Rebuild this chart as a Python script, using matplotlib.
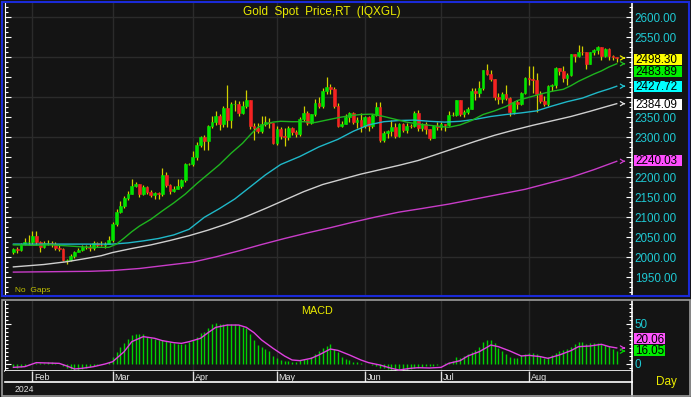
import numpy as np
import matplotlib.pyplot as plt
from matplotlib.patches import Rectangle
from matplotlib.lines import Line2D
from matplotlib.ticker import MultipleLocator, FixedLocator, FuncFormatter, FormatStrFormatter
from matplotlib.transforms import blended_transform_factory

plt.rcParams['font.family'] = ['Liberation Sans', 'DejaVu Sans']

# daily bars, 25 Jan 2024 .. 3 Sep 2024
opens = [2013, 2020, 2018, 2033, 2037, 2039, 2054, 2039, 2025, 2035,
         2035, 2034, 2024, 2020, 1992, 1992, 2004, 2013, 2017, 2025,
         2025, 2024, 2035, 2031, 2030, 2034, 2044, 2083, 2114, 2128,
         2148, 2159, 2179, 2182, 2158, 2175, 2162, 2155, 2160, 2157,
         2205, 2181, 2165, 2171, 2178, 2194, 2233, 2233, 2250, 2280,
         2300, 2290, 2329, 2339, 2352, 2333, 2372, 2344, 2383, 2383,
         2361, 2379, 2392, 2327, 2322, 2316, 2332, 2337, 2335, 2286,
         2320, 2303, 2301, 2323, 2314, 2309, 2346, 2360, 2336, 2358,
         2386, 2377, 2415, 2425, 2420, 2379, 2329, 2334, 2350, 2361,
         2338, 2343, 2327, 2350, 2327, 2355, 2375, 2294, 2311, 2316,
         2325, 2303, 2333, 2319, 2329, 2328, 2360, 2322, 2334, 2320,
         2298, 2327, 2326, 2332, 2330, 2356, 2356, 2392, 2359, 2364,
         2371, 2415, 2411, 2422, 2469, 2459, 2445, 2400, 2396, 2409,
         2398, 2364, 2387, 2384, 2411, 2447, 2446, 2443, 2409, 2390,
         2382, 2427, 2431, 2472, 2465, 2447, 2456, 2508, 2504, 2514,
         2512, 2484, 2512, 2518, 2525, 2504, 2520, 2503, 2500]
highs = [2023, 2025, 2036, 2048, 2055, 2065, 2065, 2040, 2040, 2043,
         2041, 2037, 2033, 2023, 1996, 2008, 2016, 2022, 2031, 2031,
         2034, 2041, 2037, 2040, 2038, 2052, 2088, 2120, 2141, 2152,
         2165, 2195, 2189, 2184, 2180, 2178, 2168, 2164, 2162, 2222,
         2213, 2184, 2177, 2195, 2196, 2236, 2236, 2266, 2288, 2304,
         2305, 2331, 2354, 2365, 2357, 2378, 2431, 2387, 2392, 2390,
         2391, 2417, 2393, 2335, 2335, 2353, 2353, 2349, 2336, 2327,
         2326, 2323, 2327, 2325, 2318, 2351, 2378, 2365, 2359, 2396,
         2400, 2422, 2450, 2432, 2425, 2385, 2340, 2358, 2364, 2364,
         2351, 2360, 2353, 2352, 2357, 2388, 2387, 2316, 2318, 2342,
         2335, 2335, 2335, 2336, 2334, 2365, 2368, 2335, 2338, 2321,
         2331, 2339, 2339, 2334, 2365, 2363, 2392, 2394, 2368, 2375,
         2424, 2424, 2440, 2469, 2483, 2469, 2446, 2410, 2412, 2431,
         2401, 2390, 2393, 2413, 2451, 2477, 2477, 2461, 2416, 2404,
         2431, 2433, 2475, 2474, 2479, 2461, 2509, 2509, 2531, 2527,
         2512, 2512, 2521, 2527, 2526, 2524, 2523, 2506, 2501]
lows = [2009, 2010, 2016, 2030, 2030, 2031, 2030, 2014, 2022, 2030,
        2025, 2017, 2015, 1990, 1984, 1990, 1997, 2012, 2015, 2020,
        2016, 2019, 2025, 2027, 2024, 2033, 2039, 2079, 2111, 2124,
        2144, 2158, 2176, 2150, 2155, 2158, 2151, 2146, 2146, 2153,
        2175, 2157, 2162, 2170, 2172, 2187, 2230, 2229, 2244, 2275,
        2268, 2268, 2322, 2330, 2319, 2325, 2326, 2324, 2365, 2353,
        2357, 2372, 2320, 2292, 2310, 2310, 2328, 2323, 2284, 2281,
        2295, 2277, 2292, 2305, 2300, 2304, 2341, 2331, 2333, 2353,
        2372, 2374, 2408, 2407, 2374, 2326, 2325, 2332, 2338, 2334,
        2323, 2314, 2322, 2315, 2324, 2352, 2287, 2287, 2298, 2302,
        2299, 2300, 2313, 2311, 2323, 2325, 2316, 2316, 2309, 2293,
        2297, 2318, 2319, 2315, 2327, 2352, 2353, 2353, 2350, 2357,
        2370, 2393, 2400, 2418, 2456, 2440, 2394, 2384, 2385, 2393,
        2353, 2359, 2371, 2380, 2407, 2430, 2410, 2364, 2385, 2378,
        2379, 2416, 2424, 2455, 2437, 2430, 2454, 2487, 2500, 2505,
        2470, 2482, 2505, 2507, 2494, 2500, 2492, 2493, 2489]
closes = [2020, 2018, 2033, 2037, 2039, 2054, 2039, 2025, 2035, 2035,
          2034, 2024, 2020, 1992, 1992, 2004, 2013, 2017, 2025, 2025,
          2024, 2035, 2031, 2030, 2034, 2044, 2083, 2114, 2128, 2148,
          2159, 2179, 2182, 2158, 2175, 2162, 2155, 2160, 2157, 2205,
          2181, 2165, 2171, 2178, 2194, 2233, 2233, 2250, 2280, 2300,
          2290, 2329, 2339, 2352, 2333, 2372, 2344, 2383, 2383, 2361,
          2379, 2392, 2327, 2322, 2316, 2332, 2337, 2335, 2286, 2320,
          2303, 2301, 2323, 2314, 2309, 2346, 2360, 2336, 2358, 2386,
          2377, 2415, 2425, 2420, 2379, 2329, 2334, 2350, 2361, 2338,
          2343, 2327, 2350, 2327, 2355, 2375, 2294, 2311, 2316, 2325,
          2303, 2333, 2319, 2329, 2328, 2360, 2322, 2334, 2320, 2298,
          2327, 2326, 2332, 2330, 2356, 2356, 2392, 2359, 2364, 2371,
          2415, 2411, 2422, 2469, 2459, 2445, 2400, 2396, 2409, 2398,
          2364, 2387, 2384, 2411, 2447, 2446, 2443, 2409, 2390, 2382,
          2427, 2431, 2472, 2465, 2447, 2456, 2508, 2504, 2514, 2512,
          2484, 2512, 2518, 2525, 2504, 2520, 2503, 2500, 2498.30]

# moving averages (bar index, value)
ma20_idx = [0, 5, 10, 15, 20, 25, 27, 29, 31, 33, 36, 39, 42, 45, 48, 51, 54, 57,
            60, 62, 64, 66, 68, 70, 73, 76, 79, 82, 85, 88, 91, 94, 97, 100, 103,
            106, 109, 112, 114, 117, 120, 123, 126, 129, 132, 135, 138, 141, 144,
            146, 148, 150, 152, 154, 156, 158]
ma20_val = [2031, 2030, 2031, 2028, 2025, 2025, 2033, 2048, 2064, 2078, 2095, 2116,
            2136, 2158, 2184, 2208, 2232, 2260, 2285, 2306, 2325, 2333, 2338, 2340,
            2339, 2339, 2337, 2343, 2349, 2354, 2357, 2358, 2352, 2345, 2338, 2333,
            2330, 2327, 2325, 2331, 2342, 2357, 2366, 2377, 2392, 2400, 2408, 2415,
            2420, 2429, 2440, 2449, 2458, 2466, 2476, 2483.89]
ma50_idx = [0, 10, 20, 26, 30, 34, 38, 42, 46, 50, 54, 58, 62, 66, 70, 75, 80, 85,
            89, 93, 97, 101, 105, 109, 113, 117, 121, 125, 129, 133, 137, 141, 145,
            149, 153, 156, 158]
ma50_val = [2033, 2033, 2033, 2033, 2036, 2041, 2047, 2056, 2070, 2100, 2122, 2146,
            2176, 2206, 2232, 2252, 2276, 2295, 2315, 2331, 2339, 2342, 2343, 2340,
            2338, 2340, 2345, 2352, 2357, 2361, 2366, 2378, 2389, 2398, 2412, 2421,
            2427.72]
ma100_idx = [0, 8, 14, 19, 23, 26, 31, 36, 41, 46, 51, 56, 61, 66, 71, 76, 81, 86,
             91, 96, 101, 106, 111, 116, 121, 126, 131, 136, 141, 146, 151, 155, 158]
ma100_val = [1976, 1982, 1989, 1997, 2004, 2012, 2022, 2031, 2042, 2054, 2068, 2084,
             2102, 2122, 2143, 2164, 2182, 2195, 2208, 2219, 2230, 2242, 2258, 2274,
             2290, 2305, 2318, 2330, 2341, 2352, 2365, 2376, 2384.09]
ma200_idx = [0, 10, 20, 26, 33, 40, 47, 53, 59, 65, 71, 77, 83, 89, 95, 101, 107,
             114, 120, 127, 134, 140, 146, 152, 158]
ma200_val = [1963, 1964, 1965, 1967, 1972, 1980, 1988, 2001, 2016, 2032, 2047, 2061,
             2074, 2088, 2101, 2113, 2122, 2133, 2144, 2157, 2170, 2185, 2200, 2219,
             2240.03]

# MACD histogram (one per bar) and signal line
macd_hist = [-4, -4.5, -3.5, -2.5, -1.5, 0.5, 1, 1, 1.5, 2,
             2, 1.5, 0.5, -2.5, -5, -6.5, -7, -7, -6, -5,
             -4, -2.5, -1.5, -0.5, 0.5, 2, 9, 15, 21, 26,
             31, 36, 38, 37.5, 37, 34, 33, 31, 30, 30,
             29, 28, 26, 24.5, 24.5, 25, 27, 30, 34, 39,
             40.5, 44.5, 49.5, 51, 49.5, 50, 49.5, 49.5, 49.5, 48.5,
             46.5, 44.5, 38, 30, 24, 21, 19, 16.5, 9.5, 8,
             4.5, 4, 3.5, 2, 2, 5, 6, 6.5, 9, 12.5,
             16.5, 20.5, 22, 25.5, 18.5, 15, 9, 6.5, 4.5, 3,
             2, 1, 0.5, -0.5, -1.5, -3, -4.5, -5.5, -6.5, -7.5,
             -8.5, -8.5, -8.5, -8, -6.5, -5.5, -4.5, -3.5, -3, -2.5,
             -2, -1.5, -0.5, 1.5, 3, 4, 9, 7, 9.5, 13,
             15.5, 17.5, 21, 28, 30, 30, 26, 20, 16.5, 12,
             9, 7, 8, 11, 13, 13.5, 14, 12.5, 10, 7,
             9, 11.5, 13.5, 16, 17.5, 18.5, 21.5, 25, 27, 27,
             25, 26, 26.5, 26.5, 25, 24, 22, 19, 16.05]
sig_idx = [0, 3, 6, 12, 14, 16, 18, 21, 24, 26, 29, 31, 34, 37, 39, 42, 44, 46, 49,
           51, 53, 56, 59, 61, 63, 65, 68, 71, 73, 75, 78, 80, 83, 85, 88, 91, 93,
           96, 99, 101, 104, 106, 109, 112, 114, 117, 119, 122, 124, 125, 127, 130,
           133, 135, 138, 140, 143, 146, 148, 151, 154, 156, 158]
sig_val = [-4.2, -3.3, 1.7, 0.8, -2.5, -6.2, -5.4, -3.3, 0, 2.9, 15.4, 27.9, 34.2,
           32.1, 29.2, 26.7, 25.8, 27.9, 32.1, 39.2, 45.8, 48.7, 48.7, 45.8, 39.2,
           30, 19.6, 10, 5, 4.2, 7.1, 11.3, 18.7, 17, 11.3, 5, 1.7, -1.3, -5.4,
           -7.5, -5.4, -4.6, -5, -4.2, 0.8, 4.2, 10, 15.4, 20.8, 23.7, 21.7, 16.3,
           10, 10.8, 9.2, 7.1, 11.3, 16.7, 21.7, 22.5, 24.6, 21.7, 20.06]

month_names = ['Feb', 'Mar', 'Apr', 'May', 'Jun', 'Jul', 'Aug']
month_start = [5, 26, 47, 69, 92, 112, 135]

BG = '#141414'
GRID = '#2b2b2b'
CYAN_TXT = '#1ec8d2'
YEL = '#ecec00'

W, H = 691, 397


def fx(px):
    return px / W


def fy(py):
    return 1 - py / H


fig = plt.figure(figsize=(W / 100, H / 100), dpi=100, facecolor=BG)

idx = np.arange(len(closes))
o = np.array(opens, float)
hi = np.array(highs, float)
lo = np.array(lows, float)
c = np.array(closes, float)
up = c >= o
XMIN, XMAX = -2.2, 162.0

# label slots on the right scale (pushed apart like the source does)
box_vals = [closes[-1], ma20_val[-1], ma50_val[-1], ma100_val[-1], ma200_val[-1]]
box_fill = ['#ffff00', '#00ee00', '#00ffff', '#ffffff', '#ff4dff']
arrow_col = ['#e8e800', '#22c022', '#22c8d8', '#e6e6e6', '#d040d0']
box_slot = [2494.5, 2465.3, 2426.5, 2381.5, 2242.0]

# ---- price panel ----
ax = fig.add_axes([fx(5), fy(296), 627 / W, 293 / H], facecolor=BG)
ax.set_xlim(XMIN, XMAX)
ax.set_ylim(1903.25, 2635.75)
for v in range(2000, 2601, 100):
    ax.axhline(v, color=GRID, lw=1, zorder=0)
for m in month_start:
    ax.axvline(m, color=GRID, lw=1, zorder=0)

ax.vlines(idx, lo, hi, color='#d0d000', lw=0.9, zorder=2)
ax.bar(idx[up], (c - o)[up], bottom=o[up], width=0.72, color='#00e400',
       edgecolor='#00e400', lw=0.4, zorder=3)
ax.bar(idx[~up], (c - o)[~up], bottom=o[~up], width=0.72, color='#f42222',
       edgecolor='#f42222', lw=0.4, zorder=3)

ax.plot(ma200_idx, ma200_val, color='#c83cc8', lw=1.0, zorder=4)
ax.plot(ma100_idx, ma100_val, color='#cfcfcf', lw=1.0, zorder=4)
ax.plot(ma50_idx, ma50_val, color='#1fb8c8', lw=1.0, zorder=4)
ax.plot(ma20_idx, ma20_val, color='#1eb41e', lw=1.0, zorder=4)


def price_label(v, pos):
    # scale labels sitting under a value box are hidden by it
    if any(abs(v - s) < 24 for s in box_slot):
        return ''
    return f'{v:.2f}'


ax.yaxis.set_major_locator(MultipleLocator(50))
ax.yaxis.set_minor_locator(MultipleLocator(12.5))
ax.yaxis.set_major_formatter(FuncFormatter(price_label))
ax.tick_params(axis='y', which='both', direction='in', left=True, right=True,
               labelleft=False, labelright=True, color='white',
               labelcolor=CYAN_TXT, labelsize=8.4, pad=2, width=0.8)
ax.tick_params(axis='y', which='major', length=4)
ax.tick_params(axis='y', which='minor', length=2)
ax.tick_params(axis='x', which='both', bottom=False, labelbottom=False)
for s in ['top', 'bottom']:
    ax.spines[s].set_visible(False)
ax.spines['left'].set_color('white')
ax.spines['left'].set_linewidth(0.8)
ax.spines['right'].set_color('white')
ax.spines['right'].set_linewidth(1.2)

# last-value boxes and arrows
trR = blended_transform_factory(ax.transAxes, ax.transData)
bh = 11 * 2.5
for v, fc, ac, yb in zip(box_vals, box_fill, arrow_col, box_slot):
    ax.add_patch(Rectangle((1 + 1.5 / 627, yb - bh / 2), 48 / 627, bh, transform=trR,
                           fc=fc, ec='none', clip_on=False, zorder=6))
    ax.text(1 + 3.5 / 627, yb - 1, f'{v:.2f}', transform=trR, ha='left', va='center',
            color='black', fontsize=8.4, zorder=7, clip_on=False)
    ax.annotate('', xy=(160.9, v), xytext=(159.2, v),
                arrowprops=dict(arrowstyle='->,head_length=0.25,head_width=0.15',
                                color=ac, lw=0.9), annotation_clip=False, zorder=5)

# ---- MACD panel ----
axm = fig.add_axes([fx(5), fy(371), 627 / W, 70 / H], facecolor=BG)
axm.set_xlim(XMIN, XMAX)
axm.set_ylim(-8.75, 78.75)
for m in month_start:
    axm.axvline(m, color=GRID, lw=1, zorder=0)
axm.vlines(idx, 0, macd_hist, color='#00d200', lw=1.0, zorder=2)
axm.plot(sig_idx, sig_val, color='#e040e0', lw=1.0, zorder=3)

axm.yaxis.set_major_locator(FixedLocator([0, 50]))
axm.yaxis.set_minor_locator(MultipleLocator(5))
axm.yaxis.set_major_formatter(FormatStrFormatter('%d'))
axm.tick_params(axis='y', which='both', direction='in', left=True, right=True,
                labelleft=False, labelright=True, color='white',
                labelcolor=CYAN_TXT, labelsize=8.4, pad=2, width=0.8)
axm.tick_params(axis='y', which='major', length=4)
axm.tick_params(axis='y', which='minor', length=2)
axm.tick_params(axis='x', which='both', bottom=False, labelbottom=False)
axm.spines['top'].set_visible(False)
for s in ['left', 'right', 'bottom']:
    axm.spines[s].set_color('white')
axm.spines['left'].set_linewidth(0.8)
axm.spines['right'].set_linewidth(1.2)
axm.spines['bottom'].set_linewidth(1.2)

trM = blended_transform_factory(axm.transAxes, axm.transData)
mh = 11 / 0.8
for v, fc, ac, yb in zip([sig_val[-1], macd_hist[-1]], ['#ff55ff', '#00ee00'],
                         ['#e040e0', '#00d200'], [31.5, 16.9]):
    axm.add_patch(Rectangle((1 + 2 / 627, yb - mh / 2), 31 / 627, mh, transform=trM,
                            fc=fc, ec='none', clip_on=False, zorder=6))
    axm.text(1 + 3.5 / 627, yb - 1, f'{v:.2f}', transform=trM, ha='left', va='center',
             color='black', fontsize=8.4, zorder=7, clip_on=False)
    axm.annotate('', xy=(160.9, v), xytext=(159.2, v),
                 arrowprops=dict(arrowstyle='->,head_length=0.25,head_width=0.15',
                                 color=ac, lw=0.9), annotation_clip=False, zorder=5)

# ---- date strip ----
axd = fig.add_axes([fx(5), fy(382), 627 / W, 11 / H], facecolor=BG)
axd.set_xlim(XMIN, XMAX)
axd.set_ylim(0, 1)
axd.set_xticks([])
axd.set_yticks([])
for s in ['top', 'left']:
    axd.spines[s].set_visible(False)
for s in ['bottom', 'right']:
    axd.spines[s].set_color('white')
    axd.spines[s].set_linewidth(1.2)
axd.vlines(month_start, 0, 1, color='#e0e0e0', lw=1.0)
for m, name in zip(month_start, month_names):
    axd.text(m + 0.45, 0.42, name, color='#e8e8e8', fontsize=6.5,
             ha='left', va='center')

# frames
fig.patches.append(Rectangle((fx(2), fy(296)), 687 / W, 294 / H,
                             transform=fig.transFigure, fill=False,
                             ec='#1a2ad8', lw=1.5, zorder=10))
fig.patches.append(Rectangle((fx(1.5), fy(396)), 688 / W, 96.5 / H,
                             transform=fig.transFigure, fill=False,
                             ec='#9c9c9c', lw=1.2, zorder=10))
fig.lines.append(Line2D([fx(632), fx(632)], [fy(382), fy(396)],
                        transform=fig.transFigure, color='white', lw=1.2))

# texts
fig.text(fx(322), fy(12), 'Gold  Spot  Price,RT  (IQXGL)', ha='center', va='center',
         color=YEL, fontsize=8.5)
fig.text(fx(15), fy(290), 'No  Gaps', ha='left', va='center', color='#c4c400', fontsize=6)
fig.text(fx(301), fy(310.5), 'MACD', ha='left', va='center', color=YEL, fontsize=7.8)
fig.text(fx(656), fy(382), 'Day', ha='left', va='center', color=YEL, fontsize=8.5)
fig.text(fx(15), fy(389), '2024', ha='left', va='center', color='#e0e0e0', fontsize=6.2)

fig.savefig('out.png', dpi=100, facecolor=BG)
